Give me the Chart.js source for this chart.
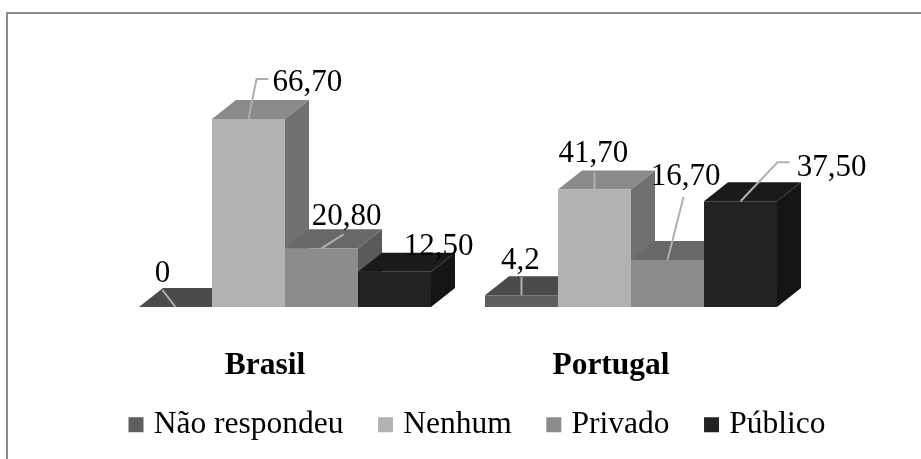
<!DOCTYPE html>
<html>
<head>
<meta charset="utf-8">
<title>Chart</title>
<script src="https://cdn.jsdelivr.net/npm/chart.js@4"></script>
<style>
    html, body { margin: 0; padding: 0; background: #fff; overflow: hidden; }
    #wrap { position: relative; width: 921px; height: 459px; }
    #frame {
        position: absolute; left: 6px; top: 12px; right: 0; bottom: 0;
        border-left: 2px solid #8c8c8c; border-top: 2px solid #8c8c8c;
    }
    canvas { position: absolute; left: 0; top: 0; }
</style>
</head>
<body>
<div id="wrap">
    <div id="frame"></div>
    <canvas id="chart" width="921" height="459"></canvas>
</div>
<script>
const categories = ['Brasil', 'Portugal'];
const seriesNames = ['Não respondeu', 'Nenhum', 'Privado', 'Público'];
const naoRespondeu = [0, 4.2];
const nenhum = [66.7, 41.7];
const privado = [20.8, 16.7];
const publico = [12.5, 37.5];
const valueLabels = [['0', '4,2'], ['66,70', '41,70'], ['20,80', '16,70'], ['12,50', '37,50']];

const frontColors = ['#5f5f5f', '#b2b2b2', '#8c8c8c', '#222222'];
const topColors = ['#4b4b4b', '#8a8a8a', '#686868', '#1a1a1a'];
const sideColors = ['#404040', '#707070', '#5a5a5a', '#151515'];

const DEPTH_X = 24;
const DEPTH_Y = 19;
const serif = '"Liberation Serif", "Times New Roman", serif';

// leader line points and label centre, relative to the top centre of each bar
const leaders = [
    [{ line: [[-13, -17]], text: [-13, -33] }, { line: [[0, -18]], text: [-1, -34] }],
    [{ line: [[8, -40], [20, -40]], text: [59, -36] }, { line: [[0, -17]], text: [-1, -36] }],
    [{ line: [[22, -14]], text: [25, -31] }, { line: [[16, -63]], text: [18, -83] }],
    [{ line: [], text: [44, -25] }, { line: [[37, -39], [49, -39]], text: [91, -33] }]
];

// side and top faces, painted left to right so the native fronts cover them
const depthFaces = {
    id: 'depthFaces',
    beforeDatasetsDraw(chart) {
        const ctx = chart.ctx;
        const face = (pts, color) => {
            ctx.fillStyle = color;
            ctx.beginPath();
            pts.forEach((p, i) => i ? ctx.lineTo(p[0], p[1]) : ctx.moveTo(p[0], p[1]));
            ctx.closePath();
            ctx.fill();
        };
        categories.forEach((c, index) => {
            chart.data.datasets.forEach((ds, d) => {
                const bar = chart.getDatasetMeta(d).data[index];
                const l = bar.x - bar.width / 2;
                const r = bar.x + bar.width / 2;
                const t = bar.y;
                const b = bar.base;
                face([[r, t], [r + DEPTH_X, t - DEPTH_Y], [r + DEPTH_X, b - DEPTH_Y], [r, b]], sideColors[d]);
                face([[l, t], [l + DEPTH_X, t - DEPTH_Y], [r + DEPTH_X, t - DEPTH_Y], [r, t]], topColors[d]);
            });
        });
    }
};

const barLabels = {
    id: 'barLabels',
    afterDatasetsDraw(chart) {
        const ctx = chart.ctx;
        ctx.save();
        chart.data.datasets.forEach((ds, d) => {
            chart.getDatasetMeta(d).data.forEach((bar, index) => {
                const item = leaders[d][index];
                if (item.line.length) {
                    ctx.strokeStyle = '#b0b0b0';
                    ctx.lineWidth = 2;
                    ctx.beginPath();
                    ctx.moveTo(bar.x, bar.y);
                    item.line.forEach(p => ctx.lineTo(bar.x + p[0], bar.y + p[1]));
                    ctx.stroke();
                }
                ctx.fillStyle = '#000';
                ctx.font = '31px ' + serif;
                ctx.textAlign = 'center';
                ctx.textBaseline = 'middle';
                ctx.fillText(valueLabels[d][index], bar.x + item.text[0], bar.y + item.text[1]);
            });
        });
        ctx.restore();
    }
};

// moves the legend so its first box and text line sit where the reference has them,
// and gives the x axis room below so the descender in Portugal is not clipped
const legendPlace = {
    id: 'legendPlace',
    afterLayout(chart) {
        const legend = chart.legend;
        const width = legend.right - legend.left;
        const height = legend.bottom - legend.top;
        legend.left = 94;
        legend.right = legend.left + width;
        legend.top = 369;
        legend.bottom = legend.top + height;
        chart.scales.x.bottom = 395;
    }
};

new Chart(document.getElementById('chart').getContext('2d'), {
    type: 'bar',
    data: {
        labels: categories,
        datasets: [naoRespondeu, nenhum, privado, publico].map((values, i) => ({
            label: seriesNames[i],
            data: values,
            backgroundColor: frontColors[i],
            borderWidth: 0
        }))
    },
    options: {
        responsive: false,
        animation: false,
        layout: { padding: { top: 60, bottom: 0 } },
        datasets: { bar: { categoryPercentage: 0.844, barPercentage: 1 } },
        scales: {
            x: {
                grid: { display: false },
                border: { display: false },
                afterFit(scale) { scale.height = 459 - 307 - scale.chart.legend.height; },
                ticks: {
                    color: '#000',
                    padding: 32,
                    labelOffset: -20,
                    maxRotation: 0,
                    font: { family: serif, size: 31.5, weight: 'bold' }
                }
            },
            // hidden axes keep the plot clear of the sides while the legend uses the full width
            y: {
                min: 0,
                max: 87.6,
                grid: { display: false },
                border: { display: false },
                ticks: { display: false },
                afterFit(scale) { scale.width = 112; }
            },
            yRight: {
                position: 'right',
                grid: { display: false },
                border: { display: false },
                ticks: { display: false },
                afterFit(scale) { scale.width = 117; }
            }
        },
        plugins: {
            tooltip: { enabled: false },
            legend: {
                position: 'bottom',
                align: 'start',
                labels: {
                    color: '#000',
                    boxWidth: 4,
                    boxHeight: 4,
                    padding: 40,
                    font: { family: serif, size: 31.5 },
                    // a thick outline around a small box keeps the swatch wide and the text close
                    generateLabels(chart) {
                        return Chart.defaults.plugins.legend.labels.generateLabels(chart).map(item => {
                            item.strokeStyle = item.fillStyle;
                            item.lineWidth = 11;
                            return item;
                        });
                    }
                }
            }
        }
    },
    plugins: [depthFaces, barLabels, legendPlace]
});
</script>
</body>
</html>
